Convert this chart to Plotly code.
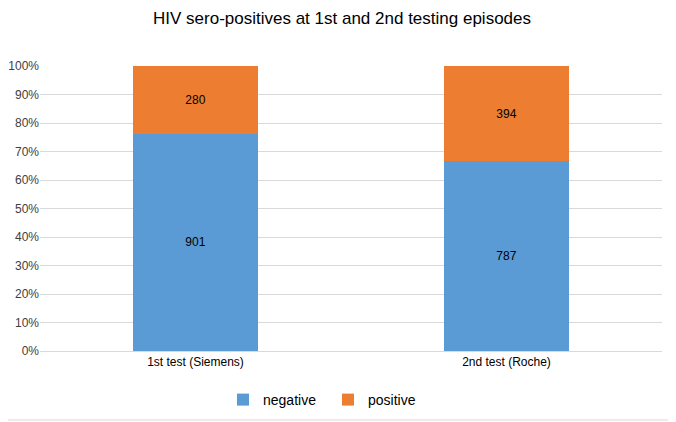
import plotly.graph_objects as go

categories = ["1st test (Siemens)", "2nd test (Roche)"]
negative = [901, 787]
positive = [280, 394]
y_ticks = list(range(0, 101, 10))
y_tick_labels = [f"{v}%" for v in y_ticks]

# page has an 8px body margin, so the figure is sized to fit the remaining area
W, H = 668, 414
L, R, T, B = 32, 14, 58, 71
pw, ph = W - L - R, H - T - B

fig = go.Figure()
fig.add_bar(x=categories, y=negative, name="negative", marker_color="#5B9BD5",
            text=[str(v) for v in negative], textposition="inside", insidetextanchor="middle",
            textfont=dict(color="#000000", size=12), marker_line_width=0)
fig.add_bar(x=categories, y=positive, name="positive", marker_color="#ED7D31",
            text=[str(v) for v in positive], textposition="inside", insidetextanchor="middle",
            textfont=dict(color="#000000", size=12), marker_line_width=0)

fig.update_layout(
    width=W, height=H,
    barmode="stack", barnorm="percent", bargap=0.598,
    margin=dict(l=L, r=R, t=T, b=B, autoexpand=False),
    paper_bgcolor="white", plot_bgcolor="white",
    font=dict(family="Liberation Sans, Arial, sans-serif", color="#404040", size=12),
    title=dict(text="HIV sero-positives at 1st and 2nd testing episodes",
               x=0.5, xanchor="center", y=1 - 10 / H, yanchor="middle",
               font=dict(size=17, color="#000000")),
    legend=dict(orientation="h", x=(320 - L) / pw, xanchor="center", y=-(392 - (T + ph)) / ph, yanchor="middle",
                font=dict(size=14, color="#000000"), itemwidth=30, traceorder="normal",
                tracegroupgap=0, entrywidth=60, entrywidthmode="pixels"),
    showlegend=True,
)
fig.update_yaxes(range=[0, 100], tickmode="array", tickvals=y_ticks, ticktext=y_tick_labels,
                 showgrid=True, automargin=False,
                 gridcolor="#D9D9D9", gridwidth=1, zeroline=False, showline=False,
                 ticks="", tickfont=dict(size=12, color="#404040"))
fig.update_xaxes(showgrid=False, showline=True, linecolor="#D9D9D9", ticks="", automargin=False,
                 tickfont=dict(size=12, color="#000000"))

# outer chart border (right and bottom edges visible in the window)
bx = 1 + (W - 1 - (L + pw)) / pw
by = -(412 - (T + ph)) / ph
fig.add_shape(type="line", xref="paper", yref="paper", x0=bx, x1=bx, y0=by, y1=1 + T / ph,
              line=dict(color="#D9D9D9", width=1), layer="below")
fig.add_shape(type="line", xref="paper", yref="paper", x0=-L / pw, x1=bx, y0=by, y1=by,
              line=dict(color="#D9D9D9", width=1), layer="below")

fig.write_html("out.html")
